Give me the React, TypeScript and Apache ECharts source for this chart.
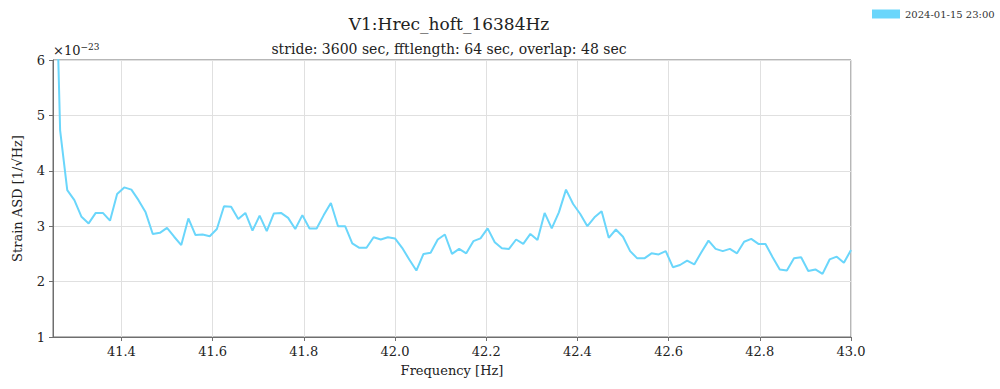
import React, { useEffect, useRef } from "react";
import * as echarts from "echarts";

// Frequency bins: fftlength 64 s -> resolution 1/64 Hz, starting at 41.25 Hz
const FREQ_START = 41.25;
const FREQ_STEP = 1 / 64;

// Strain ASD values in units of 1e-23 / sqrt(Hz)
const asdValues: number[] = [
  9.7, 4.73, 3.65, 3.47, 3.17, 3.05, 3.24, 3.24, 3.1, 3.58,
  3.7, 3.66, 3.47, 3.25, 2.86, 2.88, 2.97, 2.81, 2.66, 3.14,
  2.84, 2.85, 2.82, 2.95, 3.36, 3.35, 3.13, 3.24, 2.92, 3.19,
  2.91, 3.23, 3.24, 3.15, 2.95, 3.2, 2.96, 2.96, 3.2, 3.42,
  3.0, 3.0, 2.69, 2.61, 2.61, 2.8, 2.76, 2.8, 2.78, 2.61,
  2.4, 2.2, 2.5, 2.52, 2.76, 2.85, 2.5, 2.59, 2.51, 2.73,
  2.78, 2.96, 2.71, 2.6, 2.59, 2.76, 2.68, 2.86, 2.75, 3.24,
  2.96, 3.25, 3.66, 3.4, 3.22, 3.0, 3.16, 3.27, 2.79, 2.94,
  2.81, 2.55, 2.42, 2.42, 2.51, 2.49, 2.55, 2.26, 2.3, 2.38,
  2.31, 2.53, 2.74, 2.59, 2.55, 2.59, 2.51, 2.72, 2.77, 2.68,
  2.68, 2.44, 2.22, 2.2, 2.42, 2.44, 2.19, 2.22, 2.14, 2.4,
  2.45, 2.34, 2.57,
];

const TITLE = "V1:Hrec_hoft_16384Hz";
const SUBTITLE = "stride: 3600 sec, fftlength: 64 sec, overlap: 48 sec";
const SERIES_NAME = "2024-01-15 23:00";
const X_NAME = "Frequency [Hz]";
const Y_NAME = "Strain ASD [1/√Hz]";
const X_MIN = 41.25;
const X_MAX = 43.0;
const Y_MIN = 1;
const Y_MAX = 6;

const FONT = "DejaVu Serif";
const LINE_COLOR = "#6ad6fb";
const AXIS_COLOR = "#6e6e6e";

export default function App() {
  const ref = useRef<HTMLDivElement>(null);

  useEffect(() => {
    if (!ref.current) return;
    document.body.style.margin = "0";
    document.body.style.overflow = "hidden";
    const chart = echarts.init(ref.current, undefined, { renderer: "svg" });
    const data = asdValues.map((v, i) => [FREQ_START + i * FREQ_STEP, v]);
    chart.setOption({
      animation: false,
      backgroundColor: "#ffffff",
      title: [
        {
          text: TITLE,
          left: 444,
          top: 10,
          textAlign: "center",
          textStyle: { fontFamily: FONT, fontSize: 17, fontWeight: "normal", color: "#222" },
        },
        {
          text: SUBTITLE,
          left: 444,
          top: 37,
          textAlign: "center",
          textStyle: { fontFamily: FONT, fontSize: 14, fontWeight: "normal", color: "#222" },
        },
      ],
      legend: {
        left: 872,
        top: 9,
        padding: 0,
        icon: "rect",
        itemWidth: 28,
        itemHeight: 9,
        textStyle: { fontFamily: FONT, fontSize: 10, color: "#333" },
        data: [SERIES_NAME],
      },
      grid: {
        left: 53,
        right: 149,
        top: 60,
        bottom: 52,
        show: true,
        borderColor: AXIS_COLOR,
        borderWidth: 1,
        containLabel: false,
      },
      xAxis: {
        type: "value",
        min: X_MIN,
        max: X_MAX,
        splitNumber: 9,
        minInterval: 0.2,
        maxInterval: 0.2,
        name: X_NAME,
        nameLocation: "middle",
        nameGap: 27,
        nameTextStyle: { fontFamily: FONT, fontSize: 13, color: "#222" },
        axisLine: { show: true, lineStyle: { color: AXIS_COLOR } },
        axisTick: { show: true, length: 4, lineStyle: { color: AXIS_COLOR } },
        axisLabel: {
          fontFamily: FONT,
          fontSize: 13,
          color: "#222",
          margin: 8,
          showMinLabel: false,
          formatter: (v: number) => v.toFixed(1),
        },
        splitLine: { show: true, lineStyle: { color: "#e0e0e0", width: 1 } },
      },
      yAxis: {
        type: "value",
        min: Y_MIN,
        max: Y_MAX,
        interval: 1,
        name: Y_NAME,
        nameLocation: "middle",
        nameGap: 29,
        nameTextStyle: { fontFamily: FONT, fontSize: 13, color: "#222" },
        axisLine: { show: true, lineStyle: { color: AXIS_COLOR } },
        axisTick: { show: true, length: 4, lineStyle: { color: AXIS_COLOR } },
        axisLabel: { fontFamily: FONT, fontSize: 13, color: "#222", margin: 8 },
        splitLine: { show: true, lineStyle: { color: "#e0e0e0", width: 1 } },
      },
      graphic: [
        {
          type: "text",
          left: 53,
          top: 42,
          style: {
            text: "{a|×10}{b|−23}",
            rich: {
              a: { fontFamily: FONT, fontSize: 13, fill: "#222", verticalAlign: "bottom" },
              b: { fontFamily: FONT, fontSize: 9, fill: "#222", verticalAlign: "top", padding: [0, 0, 6, 0] },
            },
          },
        },
      ],
      series: [
        {
          name: SERIES_NAME,
          type: "line",
          data,
          showSymbol: false,
          clip: true,
          color: LINE_COLOR,
          lineStyle: { color: LINE_COLOR, width: 2 },
        },
      ],
    });
    return () => chart.dispose();
  }, []);

  return <div ref={ref} style={{ width: 1000, height: 389 }} />;
}
